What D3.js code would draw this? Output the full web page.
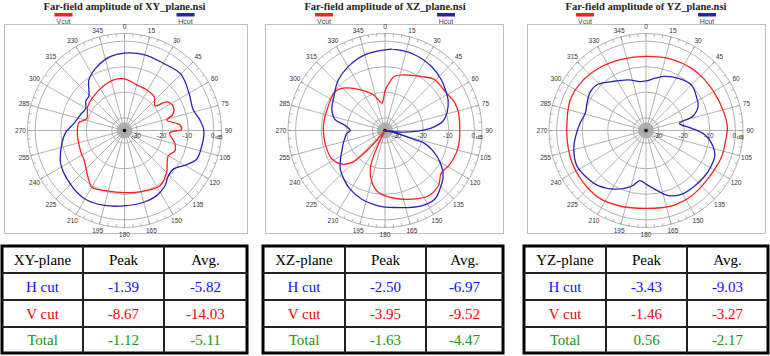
<!DOCTYPE html>
<html><head><meta charset="utf-8">
<script src="https://cdn.jsdelivr.net/npm/d3@7"></script>
<style>html,body{margin:0;padding:0;background:#fff;}svg{display:block;}</style>
</head><body>
<svg id="c" width="770" height="356"></svg>
<script>
// ---------- data ----------
const titles = ["Far-field amplitude of XY_plane.nsi","Far-field amplitude of XZ_plane.nsi","Far-field amplitude of YZ_plane.nsi"];
const planeNames = ["XY-plane","XZ-plane","YZ-plane"];
const angleTicks = d3.range(0,360,15);
const ringTicks = [-30,-20,-10,0];
const dbDomain = [-35,3];

// [angle deg, dB]
const xyHcut = [[0,-4.7],[15,-4.3],[30,-4.6],[45,-3.8],[60,-5.8],[73,-6.9],[82,-5.2],[90,-3.9],[105,-4.2],[112,-4.6],[119,-7.3],[128,-10.6],[136,-10.3],[144,-8.1],[154,-6.5],[165,-5.9],[180,-5.5],[195,-4.6],[210,-4.0],[225,-5.1],[243,-6.9],[259,-10.1],[268,-11.9],[278,-15],[290,-16.7],[300,-17.5],[307,-16],[314,-15.6],[325,-10.7],[337,-7.7],[349,-5.5]];
const xyVcut = [[0,-14.8],[15,-16.5],[29,-16.9],[42,-17.5],[51,-19.6],[56,-15],[64,-13.7],[72,-15.2],[76,-18],[84,-13.2],[89,-12.7],[93,-17.3],[104,-14.7],[112,-13.7],[120,-15.2],[135,-11.7],[147,-9.3],[166,-10.2],[180,-10.7],[196,-10.4],[210,-9.3],[215,-10.8],[228,-14.4],[235,-15.5],[245,-16],[269,-16.5],[280,-16.9],[287,-19.5],[303,-17.8],[315,-17.1],[335,-15.7],[348,-14.7]];
const xzHcut = [[0,-3.4],[5,-3.0],[21,-3.1],[36,-4.0],[48,-5.3],[56,-6.5],[64,-7.5],[74,-9.7],[81,-12],[87,-16.9],[91,-22.2],[96,-28.6],[100,-35],[104,-30],[107,-22.9],[108,-18.7],[113,-14.6],[120,-10.1],[128,-6.1],[137,-3.5],[144,-1.8],[154,-2.2],[173,-4.6],[185,-5.4],[199,-6.6],[211,-8.3],[220,-10],[229,-11.8],[237,-14.2],[246,-16.6],[254,-18.1],[266,-20.1],[270,-21.4],[278,-18.7],[282,-15.1],[291,-12.7],[304,-10.9],[317,-8.1],[330,-6.1],[345,-4.3]];
const xzVcut = [[0,-19.5],[3,-17.5],[10,-13.5],[23,-11.4],[34,-9.5],[44,-7.2],[59,-6.8],[68,-5.6],[77,-5.4],[87,-5.7],[97,-5.6],[107,-5.7],[118,-6.4],[127,-7.4],[136,-4.9],[147,-4.3],[159,-6.2],[172,-8.2],[186,-10.6],[194,-14],[201,-18.8],[204,-24],[207,-33],[214,-35],[220,-30],[223,-22],[226,-17],[232,-13.6],[242,-11.4],[252,-11.1],[265,-10.9],[277,-10.8],[290,-10.9],[308,-10.2],[317,-12.2],[330,-16.7],[342,-20.3],[350,-23.5],[354,-24.2]];
const yzHcut = [[0,-15.6],[10,-14.2],[19,-12.6],[32,-10.9],[45,-9.8],[56,-11.2],[65,-12.5],[73,-15.8],[78,-21.6],[87,-17.3],[94,-12],[103,-8.1],[110,-6.3],[119,-5.9],[128,-5.9],[139,-6.1],[151,-6.4],[161,-8.0],[169,-10.9],[180,-14],[187,-15.2],[194,-12.6],[208,-9.0],[221,-6.4],[231,-5.4],[243,-4.6],[255,-5.7],[265,-7.3],[277,-9.1],[286,-10.3],[295,-9.5],[305,-8.4],[313,-8.7],[325,-11.6],[341,-14],[353,-15.7]];
const yzVcut = [[0,-6.0],[20,-5.3],[36,-4.8],[49,-4.6],[61,-4.4],[75,-3.8],[87,-3.1],[99,-3.6],[109,-3.6],[120,-4.1],[132,-4.2],[145,-3.8],[161,-3.8],[180,-4.5],[198,-3.8],[215,-2.8],[232,-3.1],[247,-3.4],[264,-3.9],[278,-3.8],[292,-3.0],[308,-3.4],[325,-4.5],[341,-5.5]];

const rowLabels = ["H cut","V cut","Total"];
const colLabels = ["Peak","Avg."];
const peakH = [-1.39,-2.50,-3.43], avgH = [-5.82,-6.97,-9.03];
const peakV = [-8.67,-3.95,-1.46], avgV = [-14.03,-9.52,-3.27];
const peakT = [-1.12,-1.63,0.56],  avgT = [-5.11,-4.47,-2.17];

const hSeries = [xyHcut,xzHcut,yzHcut];
const vSeries = [xyVcut,xzVcut,yzVcut];

// ---------- layout ----------
const layout = [
  {cx:124.5, fx0:4,   fx1:247, tx:[2,83,164,247]},
  {cx:385,   fx0:265, fx1:503, tx:[263,345,426,503]},
  {cx:646,   fx0:527, fx1:765, tx:[524,606,687,768]}
];
const cy = 130.5, R = 97;
const RED = "#ff2020", BLUE = "#2424b4", GREEN = "#119911", GRID = "#a8a8a8";
const svg = d3.select("#c");
const r = d3.scaleLinear().domain(dbDomain).range([0,R]).clamp(true);
const rad = d => d*Math.PI/180;

layout.forEach((L,i)=>{
  const g = svg.append("g");
  g.append("rect").attr("x",L.fx0+0.5).attr("y",24.5).attr("width",L.fx1-L.fx0).attr("height",209)
    .attr("fill","none").attr("stroke","#bdbdbd").attr("stroke-width",1);
  g.append("text").attr("x",L.cx).attr("y",10).attr("text-anchor","middle")
    .attr("font-family","Liberation Serif, serif").attr("font-weight","bold").attr("font-size",10.5)
    .attr("fill","#222").text(titles[i]);
  [[ -70, RED, "Vcut"],[52, BLUE, "Hcut"]].forEach(([dx,col,lab])=>{
    g.append("rect").attr("x",L.cx+dx).attr("y",13).attr("width",18).attr("height",3.5).attr("fill",col);
    g.append("text").attr("x",L.cx+dx+9).attr("y",23.5).attr("text-anchor","middle")
      .attr("font-family","Liberation Sans, Arial, sans-serif").attr("font-size",7).attr("fill","#444").text(lab);
  });

  const p = g.append("g").attr("transform",`translate(${L.cx},${cy})`);
  d3.range(0,360,5).forEach(a=>{
    p.append("line").attr("x1",0).attr("y1",0)
      .attr("x2",8*Math.sin(rad(a))).attr("y2",-8*Math.cos(rad(a)))
      .attr("stroke","#999").attr("stroke-width",0.5);
  });
  ringTicks.concat([dbDomain[1]]).forEach(v=>{
    p.append("circle").attr("r",r(v)).attr("fill","none").attr("stroke",GRID).attr("stroke-width",0.9);
  });
  p.append("circle").attr("r",7).attr("fill","none").attr("stroke","#999").attr("stroke-width",0.6);
  angleTicks.forEach(a=>{
    p.append("line").attr("x1",0).attr("y1",0)
      .attr("x2",R*Math.sin(rad(a))).attr("y2",-R*Math.cos(rad(a)))
      .attr("stroke",GRID).attr("stroke-width",0.9);
  });
  d3.range(0,360,5).forEach(a=>{
    const s=Math.sin(rad(a)), c=Math.cos(rad(a));
    p.append("line").attr("x1",(R-3)*s).attr("y1",-(R-3)*c).attr("x2",R*s).attr("y2",-R*c)
      .attr("stroke","#888").attr("stroke-width",0.6);
  });
  p.append("circle").attr("r",1.8).attr("fill","#000");
  angleTicks.forEach(a=>{
    p.append("text").attr("x",(R+7)*Math.sin(rad(a))).attr("y",-(R+7)*Math.cos(rad(a)))
      .attr("text-anchor","middle").attr("dominant-baseline","central")
      .attr("font-family","Liberation Sans, Arial, sans-serif").attr("font-size",6.5).attr("fill","#333").text(a);
  });
  ringTicks.forEach(v=>{
    p.append("text").attr("x",r(v)-1).attr("y",5).attr("text-anchor","middle").attr("dominant-baseline","central")
      .attr("font-family","Liberation Sans, Arial, sans-serif").attr("font-size",6.5).attr("fill","#333").text(v);
  });
  p.append("text").attr("x",r(0)+5).attr("y",6).attr("text-anchor","middle").attr("dominant-baseline","central")
    .attr("font-family","Liberation Sans, Arial, sans-serif").attr("font-size",6).attr("fill","#333").text("dB");

  const line = d3.lineRadial().angle(d=>rad(d[0])).radius(d=>r(d[1])).curve(d3.curveCatmullRomClosed.alpha(0.5));
  p.append("path").datum(vSeries[i]).attr("d",line).attr("fill","none").attr("stroke",RED).attr("stroke-width",1.3);
  p.append("path").datum(hSeries[i]).attr("d",line).attr("fill","none").attr("stroke",BLUE).attr("stroke-width",1.3);

  const T = svg.append("g");
  const rows = [
    [planeNames[i], colLabels[0], colLabels[1], "#000"],
    [rowLabels[0], peakH[i].toFixed(2), avgH[i].toFixed(2), "#1010ff"],
    [rowLabels[1], peakV[i].toFixed(2), avgV[i].toFixed(2), "#ff0000"],
    [rowLabels[2], peakT[i].toFixed(2), avgT[i].toFixed(2), GREEN]
  ];
  const ys = [246,273,300,327,353];
  T.append("rect").attr("x",L.tx[0]).attr("y",ys[0]).attr("width",L.tx[3]-L.tx[0]).attr("height",ys[4]-ys[0])
    .attr("fill","#fff").attr("stroke","#000").attr("stroke-width",3);
  [1,2].forEach(k=>T.append("line").attr("x1",L.tx[k]).attr("x2",L.tx[k]).attr("y1",ys[0]).attr("y2",ys[4])
    .attr("stroke","#222").attr("stroke-width",2));
  [1,2,3].forEach(k=>T.append("line").attr("x1",L.tx[0]).attr("x2",L.tx[3]).attr("y1",ys[k]).attr("y2",ys[k])
    .attr("stroke","#222").attr("stroke-width",2));
  rows.forEach((row,ri)=>{
    [0,1,2].forEach(ci=>{
      T.append("text").attr("x",(L.tx[ci]+L.tx[ci+1])/2).attr("y",(ys[ri]+ys[ri+1])/2+5)
        .attr("text-anchor","middle").attr("font-family","Liberation Serif, 'Times New Roman', serif")
        .attr("font-size",15).attr("fill",row[3]).text(row[ci]);
    });
  });
});
</script>
</body></html>
